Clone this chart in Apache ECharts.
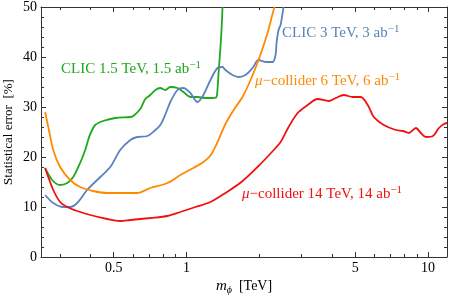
<!DOCTYPE html>
<html><head><meta charset="utf-8">
<script src="https://cdn.jsdelivr.net/npm/echarts@6/dist/echarts.min.js"></script>
<style>html,body{margin:0;padding:0;background:#fff}#c{width:449px;height:300px}</style>
</head><body><div id="c"></div>
<script>
// ---- data ----
const xMajorTicks = [0.5, 1, 5, 10];
const xMinorTicks = [0.3, 0.4, 0.6, 0.7, 0.8, 0.9, 2, 3, 4, 6, 7, 8, 9];
const yTickStep = 10;

const clic15 = [[0.26,17.8],[0.278,15.4],[0.30,14.4],[0.321,14.8],[0.34,16],[0.363,18.8],[0.381,21.4],[0.392,23.4],[0.40,24.6],[0.419,26.4],[0.452,27.2],[0.508,27.8],[0.586,28],[0.603,28.2],[0.644,29.6],[0.676,31.6],[0.709,32.4],[0.744,33.4],[0.78,33.8],[0.818,33.4],[0.858,34],[0.918,33.8],[0.972,33],[1.039,32],[1.111,32],[1.199,31.8],[1.282,31.8],[1.332,32],[1.345,33.5],[1.36,37],[1.384,42],[1.40,46],[1.411,50]];
const clic3 = [[0.26,12.4],[0.281,10.8],[0.309,10],[0.33,10],[0.353,10.8],[0.388,13.4],[0.44,16],[0.484,18],[0.532,21.4],[0.586,23.4],[0.626,24],[0.689,24.2],[0.744,25.4],[0.78,26.4],[0.818,28.5],[0.858,31],[0.918,33.4],[0.972,33.8],[1.039,32.8],[1.111,31],[1.176,32.4],[1.258,35.4],[1.345,37.8],[1.411,38],[1.451,37.4],[1.552,36.4],[1.644,36],[1.757,36.4],[1.879,37.8],[1.99,39.4],[2.127,39],[2.275,39],[2.34,40.4],[2.362,42.8],[2.408,45.4],[2.455,46.4],[2.502,48.8],[2.526,50]];
const mu6 = [[0.26,29],[0.268,26],[0.281,21.4],[0.30,18],[0.33,15.4],[0.363,14],[0.411,13.2],[0.47,12.8],[0.532,12.8],[0.626,12.8],[0.709,13.8],[0.834,14.8],[0.944,16.4],[1.069,17.8],[1.176,19],[1.258,20.3],[1.332,22.5],[1.451,26.6],[1.60,30],[1.708,32],[1.844,35.4],[1.99,39.4],[2.168,44.8],[2.296,49.4],[2.32,50]];
const mu14 = [[0.26,17.8],[0.281,13.4],[0.30,11],[0.321,10],[0.353,9.2],[0.40,8.4],[0.47,7.6],[0.532,7.2],[0.586,7.4],[0.709,7.8],[0.834,8.2],[0.944,9],[1.09,10],[1.258,11],[1.451,12.8],[1.70,15.1],[1.98,18.1],[2.30,21.4],[2.455,23],[2.65,26],[2.888,28.8],[3.178,30.4],[3.496,31.6],[3.883,31.2],[4.153,31.8],[4.482,32.4],[4.885,32],[5.272,32],[5.637,30.4],[5.97,28],[6.569,26.4],[7.366,25.4],[7.876,25.2],[8.34,24.8],[8.917,25.8],[9.354,24.8],[9.811,24],[10.49,24.2],[11.11,25.8],[11.65,26.6],[12,26.8]];

const seriesNames = ['CLIC 1.5 TeV, 1.5 ab⁻¹','CLIC 3 TeV, 3 ab⁻¹','μ−collider 6 TeV, 6 ab⁻¹','μ−collider 14 TeV, 14 ab⁻¹'];
const colors = ['#1ea81e', '#5b82bd', '#ff8a00', '#f01010'];

// ---- chart ----
const FONT = 'Liberation Serif';
const frame = '#333';
const chart = echarts.init(document.getElementById('c'), null, {renderer: 'canvas'});

function xAx(pos, ticks, len, labels) {
  return {
    type: 'log', logBase: 10, min: 0.25, max: 12, position: pos,
    axisLine: {show: labels !== null || len === 5, onZero: false, lineStyle: {color: frame, width: 1}},
    axisTick: {show: true, inside: true, length: len, customValues: ticks, lineStyle: {color: frame, width: 1}},
    axisLabel: labels ? {show: true, customValues: ticks, margin: 4, fontFamily: FONT, fontSize: 14, color: '#000',
      formatter: v => String(+(+v).toPrecision(3))} : {show: false},
    splitLine: {show: false}, minorTick: {show: false}
  };
}
function yAx(pos, labels) {
  return {
    type: 'value', min: 0, max: 50, interval: yTickStep, position: pos,
    axisLine: {show: true, onZero: false, lineStyle: {color: frame, width: 1}},
    axisTick: {show: true, inside: true, length: 5, lineStyle: {color: frame}},
    minorTick: {show: true, splitNumber: 5, length: 3, lineStyle: {color: frame}},
    axisLabel: labels ? {show: true, margin: 4, fontFamily: FONT, fontSize: 14, color: '#000'} : {show: false},
    splitLine: {show: false}
  };
}

const richBase = (size, color) => ({
  n: {fontFamily: FONT, fontSize: size, fill: color, color: color, lineHeight: 18},
  i: {fontFamily: FONT, fontSize: size, fontStyle: 'italic', fill: color, color: color, lineHeight: 18},
  s: {fontFamily: FONT, fontSize: Math.round(size*0.7), fill: color, color: color, verticalAlign: 'top', lineHeight: 18}
});
function lab(x, y, text, color) {
  return {type: 'text', x: x, y: y, silent: true,
    style: {text: text, rich: richBase(15, color), fill: color, textAlign: 'left', textVerticalAlign: 'middle', font: '15px ' + FONT}};
}

const data = [clic15, clic3, mu6, mu14];
chart.setOption({
  animation: false,
  grid: {left: 41, right: 2, top: 6, bottom: 43, containLabel: false},
  xAxis: [xAx('bottom', xMajorTicks, 5, true), xAx('bottom', xMinorTicks, 3, null),
          xAx('top', xMajorTicks, 5, false), xAx('top', xMinorTicks, 3, null)],
  yAxis: [yAx('left', true), yAx('right', false)],
  series: data.map((d, k) => ({
    name: seriesNames[k], type: 'line', data: d, xAxisIndex: 0, yAxisIndex: 0,
    showSymbol: false, smooth: 0.3, clip: true,
    lineStyle: {color: colors[k], width: 1.8}, itemStyle: {color: colors[k]}
  })),
  graphic: [
    lab(61, 69, '{n|CLIC 1.5 TeV, 1.5 ab}{s|−1}', colors[0]),
    lab(282, 33, '{n|CLIC 3 TeV, 3 ab}{s|−1}', colors[1]),
    lab(255, 81, '{i|μ}{n|−collider 6 TeV, 6 ab}{s|−1}', colors[2]),
    lab(242, 194, '{i|μ}{n|−collider 14 TeV, 14 ab}{s|−1}', colors[3]),
    {type: 'text', x: 9, y: 132, rotation: Math.PI/2, silent: true,
     style: {text: 'Statistical error  [%]', font: '13px ' + FONT, fill: '#000', textAlign: 'center', textVerticalAlign: 'middle'}},
    {type: 'text', x: 244, y: 286, silent: true,
     style: {text: '{i|m}{sb|ϕ}{n|  [TeV]}', textAlign: 'center', textVerticalAlign: 'middle', font: '14px ' + FONT, fill: '#000',
       rich: {n: {fontFamily: FONT, fontSize: 14, fill: '#000', lineHeight: 18},
              i: {fontFamily: FONT, fontSize: 15, fontStyle: 'italic', fill: '#000', lineHeight: 18},
              sb: {fontFamily: FONT, fontSize: 10, fontStyle: 'italic', fill: '#000', verticalAlign: 'bottom', lineHeight: 18}}}}
  ]
});
</script></body></html>
